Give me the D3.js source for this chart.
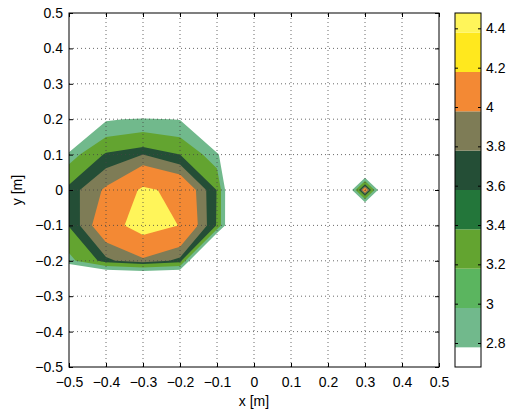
<!DOCTYPE html>
<html>
<head>
<meta charset="utf-8">
<script src="https://cdn.jsdelivr.net/npm/d3@7"></script>
<style>
  body { margin: 0; background: #fff; }
  svg text { font-family: "Liberation Sans", Arial, sans-serif; font-size: 14px; fill: #000; }
</style>
</head>
<body>
<svg id="chart" width="510" height="412"></svg>
<script>
// measurement grid (m), rows listed from top (y = 0.5) to bottom (y = -0.5)
const xNodes = [-0.5, -0.4, -0.3, -0.2, -0.1, 0, 0.1, 0.2, 0.3, 0.4, 0.5];
const yNodes = [0.5, 0.4, 0.3, 0.2, 0.1, 0, -0.1, -0.2, -0.3, -0.4, -0.5];
const zRows = [
  [0,    0,    0,    0,    0,    0, 0, 0, 0,    0, 0],
  [0,    0,    0,    0,    0,    0, 0, 0, 0,    0, 0],
  [0,    0,    0,    0,    0,    0, 0, 0, 0,    0, 0],
  [0,    2.75, 2.86, 2.78, 0,    0, 0, 0, 0,    0, 0],
  [3.01, 3.65, 3.80, 3.60, 2.95, 0, 0, 0, 0,    0, 0],
  [3.70, 4.04, 4.46, 4.31, 3.59, 0, 0, 0, 4.30, 0, 0],
  [3.62, 4.23, 4.57, 4.39, 3.58, 0, 0, 0, 0,    0, 0],
  [3.08, 3.75, 3.95, 3.74, 0,    0, 0, 0, 0,    0, 0],
  [0,    0,    0,    0,    0,    0, 0, 0, 0,    0, 0],
  [0,    0,    0,    0,    0,    0, 0, 0, 0,    0, 0],
  [0,    0,    0,    0,    0,    0, 0, 0, 0,    0, 0]
];

// filled contour levels
const levels = [2.8, 3.2, 3.6, 3.8, 4.0, 4.4];

// colour map: 10 colours, band edges between them
const cmapColors = ["#ffffff", "#71b98c", "#5bb55f", "#63a430", "#23763a",
                    "#244e36", "#7e7c56", "#f38934", "#ffe81e", "#fff55a"];
const cmapEdges = [2.778, 2.978, 3.178, 3.378, 3.578, 3.778, 3.978, 4.178, 4.378];
const cmapRange = [2.678, 4.478];

const xTicks = [-0.5, -0.4, -0.3, -0.2, -0.1, 0, 0.1, 0.2, 0.3, 0.4, 0.5];
const yTicks = [-0.5, -0.4, -0.3, -0.2, -0.1, 0, 0.1, 0.2, 0.3, 0.4, 0.5];
const cbTicks = [2.8, 3, 3.2, 3.4, 3.6, 3.8, 4, 4.2, 4.4];

const svg = d3.select("#chart");
const plot = { left: 69, right: 439, top: 13, bottom: 367 };
const cbar = { left: 455, right: 481 };

const x = d3.scaleLinear().domain([-0.5, 0.5]).range([plot.left, plot.right]);
const y = d3.scaleLinear().domain([-0.5, 0.5]).range([plot.bottom, plot.top]);
const color = d3.scaleThreshold().domain(cmapEdges).range(cmapColors);

svg.append("defs").append("clipPath").attr("id", "plot-clip")
  .append("rect")
  .attr("x", plot.left).attr("y", plot.top)
  .attr("width", plot.right - plot.left).attr("height", plot.bottom - plot.top);

// contours: d3 puts sample i at grid coordinate i + 0.5
const n = xNodes.length, m = yNodes.length;
const gx = d3.scaleLinear().domain([0.5, n - 0.5]).range([xNodes[0], xNodes[n - 1]]);
const gy = d3.scaleLinear().domain([0.5, m - 0.5]).range([yNodes[0], yNodes[m - 1]]);
const proj = d3.geoTransform({
  point(px, py) { this.stream.point(x(gx(px)), y(gy(py))); }
});
const path = d3.geoPath(proj);

const bands = d3.contours().size([n, m]).thresholds(levels)(zRows.flat());

svg.append("g")
  .attr("clip-path", "url(#plot-clip)")
  .selectAll("path")
  .data(bands)
  .join("path")
  .attr("d", path)
  .attr("fill", d => color(d.value))
  .attr("stroke", "none");

// dotted grid on top
const grid = svg.append("g")
  .attr("stroke", "#444")
  .attr("stroke-width", 0.8)
  .attr("stroke-dasharray", "1,3");
grid.selectAll(".gx").data(xTicks.slice(1, -1)).join("line")
  .attr("x1", d => x(d)).attr("x2", d => x(d))
  .attr("y1", plot.bottom).attr("y2", plot.top);
grid.selectAll(".gy").data(yTicks.slice(1, -1)).join("line")
  .attr("y1", d => y(d)).attr("y2", d => y(d))
  .attr("x1", plot.left).attr("x2", plot.right);

// axes (MATLAB style: inward ticks on all sides)
const fmt = d3.format("~g");
function styleAxis(g) {
  g.select(".domain").remove();
  g.selectAll(".tick line").attr("stroke", "#000");
  g.selectAll(".tick text").attr("fill", "#000").attr("font-size", 14)
    .attr("font-family", "Liberation Sans, Arial, sans-serif");
}
svg.append("g").attr("transform", `translate(0,${plot.bottom})`)
  .call(d3.axisBottom(x).tickValues(xTicks).tickFormat(fmt).tickSizeInner(-4).tickSizeOuter(0).tickPadding(10))
  .call(styleAxis);
svg.append("g").attr("transform", `translate(0,${plot.top})`)
  .call(d3.axisTop(x).tickValues(xTicks).tickFormat("").tickSizeInner(-4).tickSizeOuter(0))
  .call(styleAxis);
svg.append("g").attr("transform", `translate(${plot.left},0)`)
  .call(d3.axisLeft(y).tickValues(yTicks).tickFormat(fmt).tickSizeInner(-4).tickSizeOuter(0).tickPadding(6))
  .call(styleAxis);
svg.append("g").attr("transform", `translate(${plot.right},0)`)
  .call(d3.axisRight(y).tickValues(yTicks).tickFormat("").tickSizeInner(-4).tickSizeOuter(0))
  .call(styleAxis);

svg.append("rect")
  .attr("x", plot.left).attr("y", plot.top)
  .attr("width", plot.right - plot.left).attr("height", plot.bottom - plot.top)
  .attr("fill", "none").attr("stroke", "#000").attr("stroke-width", 1);

svg.append("text").attr("x", x(0)).attr("y", 406).attr("text-anchor", "middle").text("x [m]");
svg.append("text").attr("transform", `translate(22,${y(0)}) rotate(-90)`)
  .attr("text-anchor", "middle").text("y [m]");

// colorbar
const cb = d3.scaleLinear().domain(cmapRange).range([plot.bottom, plot.top]);
const cbBounds = [cmapRange[0], ...cmapEdges, cmapRange[1]];
svg.append("g").selectAll("rect")
  .data(cmapColors)
  .join("rect")
  .attr("x", cbar.left)
  .attr("width", cbar.right - cbar.left)
  .attr("y", (d, i) => cb(cbBounds[i + 1]))
  .attr("height", (d, i) => cb(cbBounds[i]) - cb(cbBounds[i + 1]))
  .attr("fill", d => d);

svg.append("g").attr("transform", `translate(${cbar.right},0)`)
  .call(d3.axisRight(cb).tickValues(cbTicks).tickFormat(fmt).tickSizeInner(-3).tickSizeOuter(0).tickPadding(5))
  .call(styleAxis);
svg.append("g").attr("transform", `translate(${cbar.left},0)`)
  .call(d3.axisLeft(cb).tickValues(cbTicks).tickFormat("").tickSizeInner(-3).tickSizeOuter(0))
  .call(styleAxis);

svg.append("rect")
  .attr("x", cbar.left).attr("y", plot.top)
  .attr("width", cbar.right - cbar.left).attr("height", plot.bottom - plot.top)
  .attr("fill", "none").attr("stroke", "#000").attr("stroke-width", 1);
</script>
</body>
</html>
